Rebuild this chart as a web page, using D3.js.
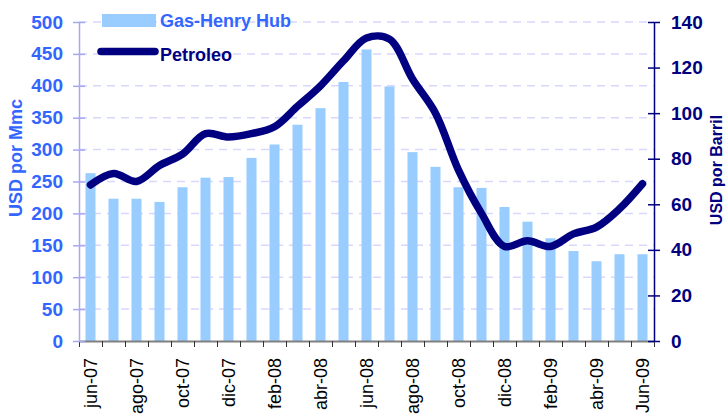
<!DOCTYPE html>
<html>
<head>
<meta charset="utf-8">
<script src="https://cdn.jsdelivr.net/npm/d3@7"></script>
<style>
  body { margin: 0; background: #fff; }
  text { font-family: "Liberation Sans", Arial, sans-serif; }
</style>
</head>
<body>
<div id="chart"></div>
<script>
const months = ['jun-07','jul-07','ago-07','sep-07','oct-07','nov-07','dic-07','ene-08','feb-08','mar-08','abr-08','may-08',
                'jun-08','jul-08','ago-08','sep-08','oct-08','nov-08','dic-08','ene-09','feb-09','mar-09','abr-09','may-09','Jun-09'];
const gas = [263, 223, 223, 218, 241, 256, 257, 287, 308, 339, 365, 406, 457, 399, 296, 273, 241, 240, 210, 187, 161, 141, 125, 136, 136];
const oil = [68.5, 73.5, 70, 77, 82, 91, 89.5, 91, 94, 103, 112, 123, 133, 132.5, 115, 100, 75, 56, 41.5, 44, 41.5, 47, 50, 58, 69];
const leftTicks = [0, 50, 100, 150, 200, 250, 300, 350, 400, 450, 500];
const rightTicks = [0, 20, 40, 60, 80, 100, 120, 140];

const W = 727, H = 414;
const x0 = 79, x1 = 654, yTop = 22, yBot = 341;
const font = '"Liberation Sans", Arial, sans-serif';

const svg = d3.select('#chart').append('svg').attr('width', W).attr('height', H);

const x = d3.scaleBand().domain(months).range([x0, x1]).padding(0);
const xi = d3.scaleLinear().domain([0, months.length]).range([x0, x1]);
const yL = d3.scaleLinear().domain([0, 500]).range([yBot, yTop]);
const yR = d3.scaleLinear().domain([0, 140]).range([yBot, yTop]);

// grid
svg.append('g').selectAll('line.grid')
    .data(leftTicks.slice(1))
    .enter().append('line')
    .attr('x1', x0).attr('x2', x1)
    .attr('y1', d => yL(d)).attr('y2', d => yL(d))
    .attr('stroke', '#d8d8ff').attr('stroke-width', 1.5)
    .attr('stroke-dasharray', '8,6');

// bars
svg.append('g').selectAll('rect')
    .data(gas)
    .enter().append('rect')
    .attr('x', (d, i) => x(months[i]) + x.bandwidth() / 2 - 5)
    .attr('width', 10)
    .attr('y', d => yL(d))
    .attr('height', d => yBot - yL(d))
    .attr('fill', '#99ccff');

// bottom axis line + ticks at band edges
const bx = svg.append('g').attr('transform', 'translate(0,' + yBot + ')')
    .call(d3.axisBottom(xi).tickValues(d3.range(months.length + 1)).tickFormat('').tickSize(6).tickSizeOuter(0));
bx.select('.domain').attr('stroke', '#808080').attr('stroke-width', 2);
bx.selectAll('.tick line').attr('stroke', '#333');

// month labels
const lx = svg.append('g').attr('transform', 'translate(0,' + (yBot + 17) + ')')
    .call(d3.axisBottom(x).tickValues(months.filter((m, i) => i % 2 === 0)).tickSize(0));
lx.select('.domain').remove();
lx.selectAll('text')
    .attr('transform', 'rotate(-90)')
    .attr('text-anchor', 'end')
    .attr('x', 0).attr('y', 0).attr('dy', '0.36em')
    .style('font-size', '18px').style('font-family', font)
    .attr('fill', '#000');

// left axis
const ax = svg.append('g').attr('transform', 'translate(' + x0 + ',0)')
    .call(d3.axisLeft(yL).tickValues(leftTicks).tickSize(6).tickSizeOuter(0));
ax.select('.domain').attr('stroke', '#a8a8f0').attr('stroke-width', 1.5);
ax.selectAll('.tick line').attr('x1', -6).attr('x2', 6).attr('stroke', '#a8a8f0').attr('stroke-width', 1.5);
ax.selectAll('text').attr('x', -16)
    .style('font-size', '19px').style('font-weight', 'bold').style('font-family', font)
    .attr('fill', '#3366ff');

// right axis
const ar = svg.append('g').attr('transform', 'translate(' + x1 + ',0)')
    .call(d3.axisRight(yR).tickValues(rightTicks).tickSize(6).tickSizeOuter(0));
ar.select('.domain').attr('stroke', '#000080').attr('stroke-width', 1.5);
ar.selectAll('.tick line').attr('x1', -6).attr('x2', 6).attr('stroke', '#000080').attr('stroke-width', 1.5);
ar.selectAll('text').attr('x', 17)
    .style('font-size', '19px').style('font-weight', 'bold').style('font-family', font)
    .attr('fill', '#000080');

// oil line
const line = d3.line()
    .x((d, i) => x(months[i]) + x.bandwidth() / 2)
    .y(d => yR(d))
    .curve(d3.curveCatmullRom.alpha(0.5));

svg.append('path')
    .attr('fill', 'none')
    .attr('stroke', '#000080')
    .attr('stroke-width', 7.5)
    .attr('stroke-linecap', 'round')
    .attr('stroke-linejoin', 'round')
    .attr('d', line(oil));

// axis titles
svg.append('text')
    .attr('transform', 'translate(22,158) rotate(-90)')
    .attr('text-anchor', 'middle')
    .style('font-size', '18px').style('font-weight', 'bold')
    .attr('fill', '#3366ff')
    .text('USD por Mmc');

svg.append('text')
    .attr('transform', 'translate(722,170) rotate(-90)')
    .attr('text-anchor', 'middle')
    .style('font-size', '16px').style('font-weight', 'bold')
    .attr('fill', '#000080')
    .text('USD por Barril');

// legend
const lg = svg.append('g');
lg.append('rect').attr('x', 102).attr('y', 14).attr('width', 54).attr('height', 13).attr('fill', '#99ccff');
lg.append('text').attr('x', 160).attr('y', 26.5)
    .style('font-size', '18px').style('font-weight', 'bold').attr('fill', '#3366ff')
    .text('Gas-Henry Hub');
lg.append('line').attr('x1', 101).attr('x2', 155).attr('y1', 51.5).attr('y2', 51.5)
    .attr('stroke', '#000080').attr('stroke-width', 7.5).attr('stroke-linecap', 'round');
lg.append('text').attr('x', 160).attr('y', 60.5)
    .style('font-size', '18px').style('font-weight', 'bold').attr('fill', '#000080')
    .text('Petroleo');
</script>
</body>
</html>
